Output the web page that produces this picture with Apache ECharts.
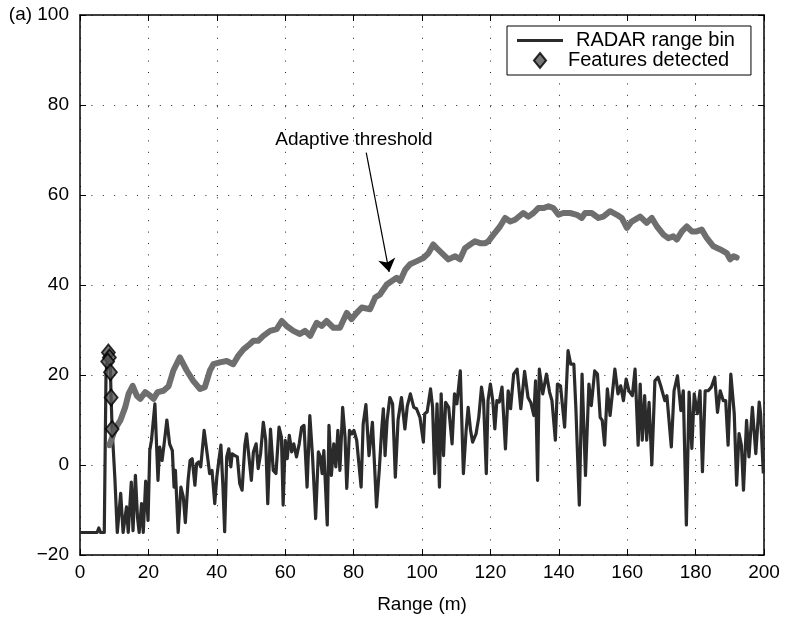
<!DOCTYPE html>
<html><head><meta charset="utf-8">
<script src="https://cdn.jsdelivr.net/npm/echarts@6/dist/echarts.min.js"></script>
<style>html,body{margin:0;padding:0;background:#fff}#c{width:785px;height:619px}</style>
</head><body><div id="c"></div><script>
// RADAR range bin (dark noisy trace)
const binX = [0,5.0,5.5,6.0,7.1,7.6,8.0,8.3,8.6,8.9,9.1,9.4,10.2,10.9,
11.9,12.6,13.6,14.1,15.0,15.5,16.2,16.8,17.3,18.0,18.5,19.2,19.9,20.4,20.9,21.9,22.8,23.3,24.0,24.6,25.4,26.2,27.0,27.5,27.9,28.7,29.5,30.2,30.8,31.6,32.2,32.8,33.6,34.1,34.7,35.3,36.3,37.3,37.9,38.6,39.4,40.0,40.6,41.2,41.8,42.3,42.9,43.5,44.1,44.5,45.3,46.0,46.7,47.4,48.2,48.7,49.4,
50.1,50.7,51.5,52.1,52.8,53.6,54.3,54.9,55.7,56.5,57.3,58.2,58.9,59.4,60.0,60.6,61.2,61.9,62.5,63.3,64.1,64.8,65.5,66.4,67.2,68.0,68.9,69.7,70.3,70.8,71.3,72.3,72.8,73.5,74.2,74.8,75.4,76.0,76.8,77.5,78.0,78.8,79.5,80.1,80.9,82.2,82.8,83.6,84.5,85.5,86.1,86.7,87.5,88.2,88.7,89.2,89.8,90.6,91.4,92.2,93.0,94.0,95.0,95.7,96.6,97.6,98.4,99.4,100.4,
100.8,101.5,102.5,103.1,103.7,104.4,105.1,105.6,106.3,106.9,107.8,108.8,109.5,110.2,111.2,112.1,112.9,113.5,114.2,114.8,115.8,116.6,117.4,118.0,118.8,119.3,120.0,120.7,121.3,121.9,122.6,123.4,124.4,125.2,125.9,126.8,127.8,128.9,130.0,131.0,131.8,132.7,133.2,133.8,134.3,135.3,136.4,137.3,138.0,139.0,139.6,140.5,141.0,141.7,142.7,143.5,144.4,145.0,146.0,146.8,147.8,148.8,149.5,150.5,
151.3,152.1,152.7,153.4,154.2,155.0,156.4,157.3,158.1,158.9,159.7,160.5,161.5,162.3,163.2,163.8,164.4,165.1,165.7,166.4,167.2,168.1,169.0,169.8,171.0,171.6,172.9,173.7,174.7,175.7,176.4,177.3,178.1,178.9,179.6,180.5,181.3,182.0,182.8,183.7,184.6,185.6,186.4,187.2,188.1,188.8,189.5,190.3,191.3,192.0,192.7,193.4,194.0,194.9,195.6,196.6,197.6,198.6,199.0,199.8];
const binY = [-15,-15,-14,-15,-15,20,24,25,24,21,15,8,-3,-15,
-6.3,-15,-9.3,-15,-3.8,-14.6,-2.3,-11.5,-15,-8.6,-15,-3.6,-12.3,3.2,5.5,13.6,-3.4,4,1,4.7,10,4.7,3.2,-4.9,-1.2,-15,-4.9,-7.1,-12.8,-3.4,1,1.4,-4.5,0.3,0.7,-0.4,7.7,1.8,-1.9,-1.2,-8.6,-2.7,1,4.4,-4.9,-14.8,1.8,3.6,-0.4,2.5,2.1,1.8,-4.1,-5.6,4.4,6.9,1.8,
-3.4,2.9,4.7,-0.8,2.5,9.5,5.5,-8.6,8.0,-1.2,-1.9,8.4,6.2,-8.9,5.5,1.4,6.6,2.9,4.7,1.8,4.7,8.4,8.8,-4.9,11.0,1.8,-11.9,2.9,1.8,-1.9,3.2,-13.3,8.8,-2.3,4.7,-0.4,7.7,-1.2,12.8,6.2,-5.2,7.7,6.9,7.7,5.5,-4.9,9.1,13.4,2.1,9.5,0.3,-9.3,-1.2,7.7,12.5,2.1,10.0,15.0,13.6,-2.7,10.0,15.0,8.0,13.1,15.8,12.8,12.5,10.6,5.1,
11.4,11.8,16.9,12.8,-1.9,13.6,-4.9,15.8,2.1,13.9,12.8,4.7,15.8,13.6,20.9,-1.9,7.7,12.8,7.7,5.1,6.9,10.6,17.3,14.3,-1.9,14.3,18.0,14.3,8.0,14.3,14.0,17.3,3.6,16.5,12.5,20.2,21.3,12.5,20.8,15.0,13.9,11.0,18.7,-3.4,21.3,15.8,20.2,16.2,14.3,5.5,18.0,17.6,18.0,8.4,25.4,22.4,22.4,12.5,-8.9,20.2,-2.3,18.0,13.2,20.9,
20.2,10.6,9.9,4.4,16.9,11.0,21.3,15.8,17.6,14.3,19.1,16.5,15.4,21.3,4.4,18.0,5.5,15.4,5.5,13.9,0,18.7,19.5,17.6,14.3,15.4,4.0,16.5,19.8,12.1,16.5,-13.3,16.2,3.7,15.8,11.4,16.5,-1.5,16.5,16.5,17.3,19.5,11.7,16.5,14.3,14.3,4.4,20.2,11.4,-4.5,7.0,4.4,-5.6,9.9,1.8,12.8,2.5,14.0,11.4,-1.9];

// Adaptive threshold (thick grey trace)
const thrX = [8.6,10.3,11.8,13.2,14.2,15.4,16.6,17.6,19.1,20.5,21.5,22.7,24.4,25.9,27.3,29.2,31.2,33.1,35.1,36.5,38,39,40.9,42.9,44.8,46.3,47.8,49.7,50.7,52.1,53.6,55.6,57.5,59,60.4,62.4,64.3,65.8,67.3,69.2,70.7,72.1,74.1,76,78,79.4,80.9,82.4,84.8,86.3,87.7,89.7,91.2,92.6,93.6,95.1,96.5,98.5,100.4,101.9,103.3,104.3,105.8,107.7,109.7,111.1,112.6,114.1,115.5,117,118.5,119.4,120.9,122.8,124.3,125.8,127.2,129.6,131.1,132.6,134,135.5,137,138.4,139.9,141.3,143.3,145.3,146.7,147.7,149.6,151.6,153,155,157,158.4,159.9,161.3,163.8,165.7,167.2,168.7,170.6,172,173.5,174.5,176,177.4,178.9,180.3,181.8,183.3,185.2,187.2,189.1,190.1,191.1,192];
const thrY = [4.4,8.1,9.9,12.8,15.8,17.6,15.4,14.7,16.2,15.4,14.7,16.2,16.5,17.5,21,23.9,21,18.7,16.9,17.3,21,22.4,22.8,23.1,22.4,24.3,25.7,26.9,27.6,27.6,28.7,29.8,30.2,32,30.9,29.8,29.1,29.8,28.7,31.6,30.9,32,30.5,30.5,33.8,32.4,33.8,35,34.6,37.2,37.9,40.1,40.9,41.6,40.9,43.4,44.6,45.3,46,47.1,49,48.2,47.1,45.7,46.4,45.7,48.2,49,49.7,49.3,49.3,49.7,51.2,53,54.9,54.1,54.5,56,55.2,56,57.1,57.1,57.5,57.1,55.6,56,56,55.6,54.9,56,56,54.9,55.2,56.4,55.6,54.9,52.7,54.1,55.2,53.8,54.9,53,51.2,50.4,50.8,50.1,51.9,53,51.9,51.9,52.3,50.4,48.6,47.9,47.1,45.7,46.4,46.1];

// Features detected (diamonds)
const featX = [8.3,8.6,8.1,8.9,9.1,9.4];
const featY = [25,23.9,23,20.6,15,8];

// Axis ticks
const xTicks = {min:0, max:200, interval:20};
const yTicks = {min:-20, max:100, interval:20};

// Annotation
const annoText = 'Adaptive threshold';
const annoTextPos = [80.1, 72.2];
const annoArrowFrom = [83.7, 69.4];
const annoArrowTo = [90.4, 42.9];

const zip = (a, b) => a.map((v, i) => [v, b[i]]);
const FONT = 'Liberation Sans';

const chart = echarts.init(document.getElementById('c'), null, {renderer: 'canvas'});
const axisCommon = {
  axisLine: {show: true, onZero: false, lineStyle: {color: '#000', width: 1.5}},
  axisTick: {show: true, inside: true, length: 6, lineStyle: {color: '#000', width: 1}},
};
chart.setOption({
  animation: false,
  backgroundColor: '#fff',
  textStyle: {fontFamily: FONT},
  grid: {left: 80, right: 21, top: 15, bottom: 64, outerBoundsMode: 'none', containLabel: false},
  legend: {
    show: true,
    left: 507, top: 26,
    orient: 'vertical',
    data: [
      {name: 'RADAR range bin', icon: 'path://M0 0 L46 0 L46 3 L0 3 Z'},
      {name: 'Features detected', icon: 'path://M6.5 0 L13 8 L6.5 16 L0 8 Z'}
    ],
    symbolKeepAspect: true,
    backgroundColor: '#fff',
    borderColor: '#000', borderWidth: 1,
    padding: [4.5, 16, 4.5, 10],
    itemGap: 0,
    itemWidth: 46, itemHeight: 15,
    itemTextGap: 7,
    textStyle: {fontFamily: FONT, fontSize: 20, color: '#000', lineHeight: 20,
      rich: {p: {fontFamily: FONT, fontSize: 20, color: '#000', padding: [0, 0, 0, 8]}}},
    formatter: n => n === 'RADAR range bin' ? '{p|' + n + '}' : n
  },
  xAxis: [
    Object.assign({type: 'value', position: 'bottom', min: xTicks.min, max: xTicks.max, interval: xTicks.interval,
      name: 'Range (m)', nameLocation: 'middle', nameGap: 40,
      nameTextStyle: {fontFamily: FONT, fontSize: 19, color: '#000'},
      axisLabel: {fontFamily: FONT, fontSize: 19, color: '#000', margin: 8},
      splitLine: {show: true, lineStyle: {color: '#222', width: 1, type: [1, 10.4]}}
    }, axisCommon),
    Object.assign({type: 'value', position: 'top', min: xTicks.min, max: xTicks.max, interval: xTicks.interval,
      axisLabel: {show: false}, splitLine: {show: false}}, axisCommon)
  ],
  yAxis: [
    Object.assign({type: 'value', position: 'left', min: yTicks.min, max: yTicks.max, interval: yTicks.interval,
      name: 'Power (dB)', nameLocation: 'middle', nameGap: 48,
      nameTextStyle: {fontFamily: FONT, fontSize: 19, color: '#000'},
      axisLabel: {fontFamily: FONT, fontSize: 19, color: '#000', margin: 11,
        formatter: v => v === 100 ? '(a) 100' : (v < 0 ? '\u2212' + (-v) : String(v))},
      splitLine: {show: true, lineStyle: {color: '#222', width: 1, type: [1, 10.4]}}
    }, axisCommon),
    Object.assign({type: 'value', position: 'right', min: yTicks.min, max: yTicks.max, interval: yTicks.interval,
      axisLabel: {show: false}, splitLine: {show: false}}, axisCommon)
  ],
  series: [
    {
      name: 'RADAR range bin', type: 'line', xAxisIndex: 0, yAxisIndex: 0,
      data: zip(binX, binY), symbol: 'none', showSymbol: false,
      lineStyle: {color: '#2b2b2b', width: 3.2, join: 'round'},
      itemStyle: {color: '#2b2b2b'}, z: 2
    },
    {
      name: 'Adaptive threshold', type: 'line', xAxisIndex: 0, yAxisIndex: 0,
      data: zip(thrX, thrY), symbol: 'none', showSymbol: false,
      lineStyle: {color: '#6e6e6e', width: 6, join: 'round', cap: 'round'},
      itemStyle: {color: '#6e6e6e'}, z: 3,
      markPoint: {
        silent: true, symbol: 'circle', symbolSize: 0,
        data: [{coord: annoTextPos, value: annoText}],
        label: {show: true, position: 'inside', formatter: annoText, fontFamily: FONT, fontSize: 19, color: '#000'}
      },
      markLine: {
        silent: true, symbol: ['none', 'arrow'], symbolSize: 13,
        lineStyle: {color: '#000', width: 1.2, type: 'solid'},
        itemStyle: {color: '#000'},
        label: {show: false},
        data: [[{coord: annoArrowFrom}, {coord: annoArrowTo}]]
      }
    },
    {
      name: 'Features detected', type: 'scatter', xAxisIndex: 0, yAxisIndex: 0,
      data: zip(featX, featY), symbol: 'diamond', symbolSize: [13, 16],
      itemStyle: {color: '#555', borderColor: '#000', borderWidth: 1.8}, z: 4
    }
  ]
});
</script></body></html>
